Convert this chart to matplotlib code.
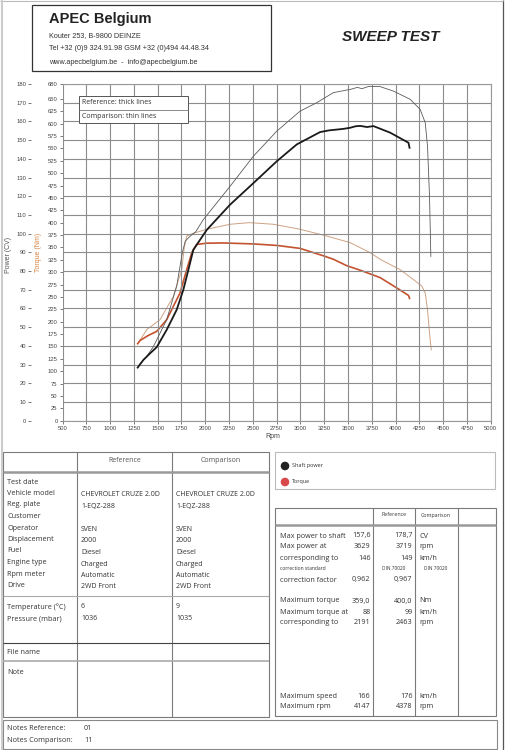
import numpy as np
import matplotlib
matplotlib.use('Agg')
import matplotlib.pyplot as plt
from matplotlib.patches import Rectangle, Circle

# ---- curve data (rpm, value) ----
ref_pow_rpm = [1290, 1350, 1420, 1490, 1595, 1700, 1770, 1823, 1875, 2016, 2261, 2506, 2752,
               2962, 3207, 3300, 3450, 3523, 3580, 3629, 3700, 3768, 3943, 4136, 4147]
ref_pow_cv = [28.4, 32.5, 36.0, 39.3, 48.6, 59.3, 70.0, 80.7, 91.4, 102.0, 115.5, 127.0, 138.7,
              147.7, 154.3, 155.2, 156.0, 156.6, 157.4, 157.6, 157.0, 157.5, 154.0, 148.6, 145.9]

cmp_pow_rpm = [1307, 1380, 1455, 1595, 1700, 1760, 1790, 1840, 1900, 1980, 2261, 2506, 2752,
               2997, 3172, 3347, 3523, 3600, 3646, 3719, 3838, 3978, 4154, 4259, 4312, 4336,
               4357, 4371]
cmp_pow_cv = [29.8, 34.0, 39.6, 54.0, 72.0, 90.0, 96.0, 98.6, 101.0, 107.5, 125.3, 141.4, 154.8,
              165.5, 170.0, 175.4, 177.1, 178.2, 177.5, 178.7, 178.6, 176.2, 171.8, 166.4, 159.3,
              146.8, 120.0, 87.8]

ref_tq_rpm = [1290, 1315, 1400, 1490, 1595, 1735, 1806, 1860, 1911, 2016, 2191, 2506, 2752,
              2997, 3242, 3347, 3488, 3628, 3838, 4014, 4136, 4147]
ref_tq_nm = [155.5, 162.0, 172.0, 180.4, 204.0, 258.0, 305.5, 340.0, 356.0, 358.5, 359.0, 357.0,
             354.0, 348.0, 333.0, 326.0, 313.0, 304.0, 289.0, 268.0, 253.0, 247.0]

cmp_tq_rpm = [1300, 1385, 1525, 1665, 1753, 1780, 1806, 1875, 2016, 2261, 2463, 2716, 2997,
              3278, 3523, 3733, 3838, 3978, 4049, 4188, 4276, 4312, 4336, 4357, 4375]
cmp_tq_nm = [158.0, 184.0, 204.0, 251.0, 305.0, 350.0, 373.0, 378.5, 386.6, 396.7, 400.0, 396.7,
             386.6, 373.0, 359.6, 339.4, 326.0, 312.0, 305.0, 285.0, 271.6, 258.0, 224.0, 177.0,
             143.0]

rpm_ticks = list(range(500, 5001, 250))
power_ticks = list(range(0, 181, 10))
torque_ticks = list(range(0, 651, 25)) + [680]

# ---- table texts ----
left_labels = ['Test date', 'Vehicle model', 'Reg. plate', 'Customer', 'Operator',
               'Displacement', 'Fuel', 'Engine type', 'Rpm meter', 'Drive']
left_ref = ['', 'CHEVROLET CRUZE 2.0D', '1-EQZ-288', '', 'SVEN', '2000', 'Diesel',
            'Charged', 'Automatic', '2WD Front']
left_cmp = ['', 'CHEVROLET CRUZE 2.0D', '1-EQZ-288', '', 'SVEN', '2000', 'Diesel',
            'Charged', 'Automatic', '2WD Front']
cond_labels = ['Temperature (°C)', 'Pressure (mbar)']
cond_ref = ['6', '1036']
cond_cmp = ['9', '1035']

res_labels = ['Max power to shaft', 'Max power at', 'corresponding to', 'correction standard',
              'correction factor', 'Maximum torque', 'Maximum torque at', 'corresponding to',
              'Maximum speed', 'Maximum rpm']
res_ref = ['157,6', '3629', '146', 'DIN 70020', '0,962', '359,0', '88', '2191', '166', '4147']
res_cmp = ['178,7', '3719', '149', 'DIN 70020', '0,967', '400,0', '99', '2463', '176', '4378']
res_unit = ['CV', 'rpm', 'km/h', '', '', 'Nm', 'km/h', 'rpm', 'km/h', 'rpm']
res_y = [536, 547, 558, 569, 580, 601, 612, 623, 696, 707]

W, H = 519, 750
fig = plt.figure(figsize=(W / 100, H / 100), dpi=100)
fig.patch.set_facecolor('white')

# overlay in pixel coordinates for the page furniture
pg = fig.add_axes([0, 0, 1, 1])
pg.set_xlim(0, W)
pg.set_ylim(H, 0)
pg.axis('off')

TF = 'Open Sans'
AF = 'Liberation Sans'
txt = '#333333'
box = '#7a7a7a'

def line(x0, y0, x1, y1, c=box, lw=0.8):
    pg.plot([x0, x1], [y0, y1], color=c, lw=lw, solid_capstyle='butt')

def rect(x0, y0, x1, y1, c=box, lw=0.8):
    pg.add_patch(Rectangle((x0, y0), x1 - x0, y1 - y0, fill=False, ec=c, lw=lw))

# page border
line(503, 0, 503, 750, c='#555555', lw=0.9)
line(0, 1, 503, 1, c='#bbbbbb', lw=0.8)
line(2, 0, 2, 750, c='#cccccc', lw=1.5)

# header
rect(32, 5, 271, 71, c='#333333', lw=0.9)
pg.text(49, 19, 'APEC Belgium', fontsize=10.5, fontweight='bold', family=AF, color='#222222', va='center')
pg.text(49, 36, 'Kouter 253, B-9800 DEINZE', fontsize=5.2, family=AF, color=txt, va='center')
pg.text(49, 49, 'Tel +32 (0)9 324.91.98 GSM +32 (0)494 44.48.34', fontsize=5.2, family=AF, color=txt, va='center')
pg.text(49, 62, 'www.apecbelgium.be  -  info@apecbelgium.be', fontsize=5.2, family=AF, color=txt, va='center')
pg.text(391, 37, 'SWEEP TEST', fontsize=11, fontweight='bold', style='italic', family=AF,
        color='#222222', ha='center', va='center')

# axis titles beside the chart
pg.text(8, 255, 'Power (CV)', rotation=90, fontsize=5, family=AF, color='#555555', ha='center', va='center')
pg.text(39, 252, 'Torque (Nm)', rotation=90, fontsize=5, family=AF, color='#d9823f', ha='center', va='center')
pg.text(273, 437, 'Rpm', fontsize=5, family=AF, color='#444444', ha='center', va='center')

# left info table
rect(3, 452, 269, 717)
line(77, 452, 77, 717)
line(172, 452, 172, 717)
line(3, 471.5, 269, 471.5, c='#999999', lw=1.8)
pg.text(124.5, 461, 'Reference', fontsize=5, family=TF, color='#555555', ha='center', va='center')
pg.text(220.5, 461, 'Comparison', fontsize=5, family=TF, color='#555555', ha='center', va='center')
for i, lab in enumerate(left_labels):
    y = 482 + i * 11.5
    pg.text(7, y, lab, fontsize=5.2, family=TF, color=txt, va='center')
    pg.text(81, y + 1.5, left_ref[i], fontsize=5, family=TF, color=txt, va='center')
    pg.text(176, y + 1.5, left_cmp[i], fontsize=5, family=TF, color=txt, va='center')
line(3, 596, 269, 596, c='#aaaaaa')
for i, lab in enumerate(cond_labels):
    y = 607 + i * 11.5
    pg.text(7, y, lab, fontsize=5.2, family=TF, color=txt, va='center')
    pg.text(81, y, cond_ref[i], fontsize=5, family=TF, color=txt, va='center')
    pg.text(176, y, cond_cmp[i], fontsize=5, family=TF, color=txt, va='center')
line(3, 642.5, 269, 642.5, c='#444444', lw=0.8)
pg.text(7, 653, 'File name', fontsize=5.2, family=TF, color=txt, va='center')
line(3, 661, 269, 661, c='#aaaaaa', lw=1.2)
pg.text(7, 672, 'Note', fontsize=5.2, family=TF, color=txt, va='center')

# legend box (shaft power / torque)
rect(275, 452, 495, 489, c='#bbbbbb')
pg.add_patch(Circle((285, 466), 3.6, color='#222222'))
pg.add_patch(Circle((285, 482), 3.6, color='#d84a4a'))
pg.text(292, 466, 'Shaft power', fontsize=4, family=TF, color=txt, va='center')
pg.text(292, 482, 'Torque', fontsize=4, family=TF, color=txt, va='center')

# results table
rect(275, 508, 496, 716)
for xc in [373, 415, 457.5]:
    line(xc, 508, xc, 716)
line(275, 525, 496, 525, c='#999999', lw=1.8)
pg.text(394, 515, 'Reference', fontsize=3.8, family=TF, color=txt, ha='center', va='center')
pg.text(436, 515, 'Comparison', fontsize=3.8, family=TF, color=txt, ha='center', va='center')
for i, lab in enumerate(res_labels):
    y = res_y[i]
    small = lab == 'correction standard'
    fs = 3.6 if small else 5.2
    pg.text(280, y, lab, fontsize=fs, family=TF, color=txt, va='center')
    pg.text(370.5, y, res_ref[i], fontsize=3.4 if small else 5.2, family=TF, color=txt,
            ha='right' if not small else 'center', va='center') if not small else \
        pg.text(394, y, res_ref[i], fontsize=3.4, family=TF, color=txt, ha='center', va='center')
    if small:
        pg.text(436, y, res_cmp[i], fontsize=3.4, family=TF, color=txt, ha='center', va='center')
    else:
        pg.text(412.5, y, res_cmp[i], fontsize=5.2, family=TF, color=txt, ha='right', va='center')
    pg.text(419, y, res_unit[i], fontsize=5.2, family=TF, color=txt, va='center')

# notes box
rect(3, 720, 497, 749, c='#888888')
pg.text(7, 729, 'Notes Reference:', fontsize=5.2, family=TF, color=txt, va='center')
pg.text(84, 729, '01', fontsize=5.2, family=TF, color=txt, va='center')
pg.text(7, 741, 'Notes Comparison:', fontsize=5.2, family=TF, color=txt, va='center')
pg.text(84, 741, '11', fontsize=5.2, family=TF, color=txt, va='center')

# ---- chart ----
left, right, top, bottom = 62.5, 490.7, 84.0, 420.7
ax = fig.add_axes([left / W, 1 - bottom / H, (right - left) / W, (bottom - top) / H])
ax.set_xlim(500, 5000)
ax.set_ylim(0, 180)
ax.set_xticks(rpm_ticks)
ax.set_yticks(power_ticks)
ax.grid(True, color='#8c8c8c', lw=0.8)
ax.set_axisbelow(True)
for s in ax.spines.values():
    s.set_color('#999999')
    s.set_linewidth(0.8)
ax.spines['left'].set_position(('outward', 22.5))
ax.spines['left'].set_visible(False)
ax.tick_params(axis='x', labelsize=4.2, colors='#444444', length=2, pad=2, width=0.5)
ax.tick_params(axis='y', labelsize=4.2, colors='#444444', length=2.5, pad=1, width=0.5)
for lab in ax.get_xticklabels() + ax.get_yticklabels():
    lab.set_family(AF)

ax2 = ax.twinx()
ax2.set_ylim(0, 680)
ax2.set_yticks(torque_ticks)
ax2.yaxis.set_ticks_position('left')
ax2.yaxis.set_label_position('left')
ax2.spines['right'].set_visible(False)
ax2.spines['top'].set_visible(False)
ax2.spines['bottom'].set_visible(False)
ax2.spines['left'].set_visible(False)
ax2.tick_params(axis='y', labelsize=4.2, colors='#444444', length=2.5, pad=1, width=0.5)
for lab in ax2.get_yticklabels():
    lab.set_family(AF)

ax2.plot(cmp_tq_rpm, cmp_tq_nm, color='#cfa283', lw=0.7)
ax2.plot(ref_tq_rpm, ref_tq_nm, color='#c4522e', lw=1.2)
ax.plot(cmp_pow_rpm, cmp_pow_cv, color='#5a5a5a', lw=0.6)
ax.plot(ref_pow_rpm, ref_pow_cv, color='#1a1a1a', lw=1.3)
ax.set_zorder(ax2.get_zorder() + 1)
ax.patch.set_visible(False)

# reference/comparison key inside plot
ax.add_patch(Rectangle((79, 96), 109, 27, transform=pg.transData, fill=True, fc='white',
                       ec='#555555', lw=0.7, zorder=5))
pg_line_y = 110
ax.plot([79, 188], [pg_line_y, pg_line_y], transform=pg.transData, color='#777777', lw=0.6, zorder=6)
ax.text(82, 103, 'Reference: thick lines', transform=pg.transData, fontsize=5, family=TF,
        color='#333333', va='center', zorder=7)
ax.text(82, 116.5, 'Comparison: thin lines', transform=pg.transData, fontsize=5, family=TF,
        color='#333333', va='center', zorder=7)

fig.savefig('out.png', dpi=100, facecolor='white')
